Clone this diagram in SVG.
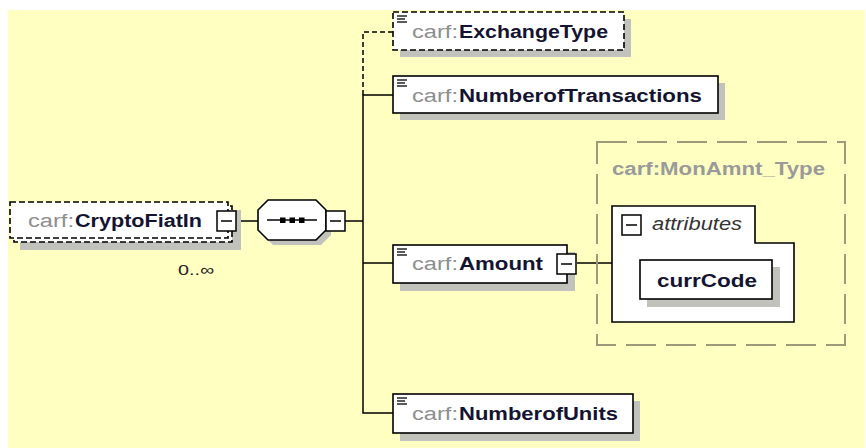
<svg xmlns="http://www.w3.org/2000/svg" width="866" height="448" viewBox="0 0 866 448">
<defs>
<style>
.bg{fill:#FFFFC2}
.sh{fill:#C2C2BC}
.box{fill:#fff;stroke:#000;stroke-width:1.6}
.dbox{fill:#fff;stroke:#000;stroke-width:1.6;stroke-dasharray:6 3}
.ln{stroke:#000;stroke-width:1.5;fill:none}
.dln{stroke:#000;stroke-width:1.5;fill:none;stroke-dasharray:5 3}
.pre{font-family:"Liberation Sans",Arial,sans-serif;font-size:18px;fill:#8E8E8E}
.nm{font-family:"Liberation Sans",Arial,sans-serif;font-size:18px;font-weight:bold;fill:#141432}
.ty{font-family:"Liberation Sans",Arial,sans-serif;font-size:18px;font-weight:bold;fill:#9A9A9A}
.it{font-family:"Liberation Sans",Arial,sans-serif;font-size:18px;font-style:italic;fill:#333}
.oc{font-family:"Liberation Sans",Arial,sans-serif;font-size:15px;fill:#222}
.ic{stroke:#000;stroke-width:1.3}
.mb{fill:#fff;stroke:#000;stroke-width:1.5}
</style>
<g id="minus">
<rect class="mb" x="0" y="0" width="19" height="20"/>
<line class="ln" x1="4" y1="10" x2="15" y2="10"/>
</g>
<g id="lines">
<line class="ic" x1="3" y1="3" x2="13" y2="3"/>
<line class="ic" x1="3" y1="6" x2="11" y2="6"/>
<line class="ic" x1="3" y1="9" x2="13" y2="9"/>
</g>
</defs>
<rect width="866" height="448" fill="#fff"/>
<rect class="bg" x="8" y="10" width="857" height="438"/>

<g id="connectors">
<line class="ln" x1="236" y1="221" x2="258" y2="221"/>
<line class="ln" x1="345" y1="221" x2="363" y2="221"/>
<polyline class="dln" points="393,32 363,32 363,95"/>
<polyline class="ln" points="393,95 363,95 363,413 393,413"/>
<line class="ln" x1="363" y1="263" x2="393" y2="263"/>
<line class="ln" x1="577" y1="263" x2="612" y2="263"/>
</g>

<g id="CryptoFiatIn">
<rect class="sh" x="20" y="210" width="221" height="40"/>
<rect class="dbox" x="14" y="206" width="218" height="36"/>
<rect class="dbox" x="10" y="202" width="218" height="36"/>
<text class="pre" x="28" y="227" textLength="46" lengthAdjust="spacingAndGlyphs">carf:</text>
<text class="nm" x="75" y="227" textLength="127" lengthAdjust="spacingAndGlyphs">CryptoFiatIn</text>
<use href="#minus" x="217" y="211"/>
<text class="oc" x="178" y="275" textLength="36" lengthAdjust="spacingAndGlyphs">0..∞</text>
</g>

<g id="sequence">
<polygon class="sh" points="273,205 321,205 331,215 331,235 321,245 273,245 263,235 263,215"/>
<polygon class="box" points="268,200 316,200 326,210 326,230 316,240 268,240 258,230 258,210"/>
<line class="ln" x1="267" y1="220" x2="317" y2="220"/>
<rect x="280" y="217.5" width="5.5" height="5.5" fill="#000"/>
<rect x="289.5" y="217.5" width="5.5" height="5.5" fill="#000"/>
<rect x="299" y="217.5" width="5.5" height="5.5" fill="#000"/>
<use href="#minus" x="326" y="211"/>
</g>

<g id="ExchangeType">
<rect class="sh" x="400" y="19" width="231" height="38"/>
<rect class="dbox" x="393" y="12" width="231" height="38"/>
<use href="#lines" x="394" y="13"/>
<text class="pre" x="412" y="38" textLength="46" lengthAdjust="spacingAndGlyphs">carf:</text>
<text class="nm" x="459" y="38" textLength="149" lengthAdjust="spacingAndGlyphs">ExchangeType</text>
</g>

<g id="NumberofTransactions">
<rect class="sh" x="400" y="83" width="325" height="37"/>
<rect class="box" x="393" y="76" width="325" height="37"/>
<use href="#lines" x="394" y="77"/>
<text class="pre" x="412" y="102" textLength="46" lengthAdjust="spacingAndGlyphs">carf:</text>
<text class="nm" x="459" y="102" textLength="243" lengthAdjust="spacingAndGlyphs">NumberofTransactions</text>
</g>

<g id="Amount">
<rect class="sh" x="400" y="252" width="175" height="39"/>
<rect class="box" x="393" y="245" width="174" height="38"/>
<use href="#lines" x="394" y="246"/>
<text class="pre" x="412" y="270" textLength="46" lengthAdjust="spacingAndGlyphs">carf:</text>
<text class="nm" x="459" y="270" textLength="84" lengthAdjust="spacingAndGlyphs">Amount</text>
<use href="#minus" x="557" y="254"/>
</g>

<g id="MonAmnt_Type">
<rect x="597" y="142" width="248" height="203" fill="none" stroke="#9C9A78" stroke-width="2" stroke-dasharray="30 10"/>
<text class="ty" x="612" y="175" textLength="213" lengthAdjust="spacingAndGlyphs">carf:MonAmnt_Type</text>
</g>

<g id="attributes">
<polygon class="box" points="612,206 755,206 755,243 794,243 794,322 612,322"/>
<use href="#minus" x="622" y="215"/>
<text class="it" x="652" y="230" textLength="90" lengthAdjust="spacingAndGlyphs">attributes</text>
</g>

<g id="currCode">
<rect class="sh" x="647" y="267" width="133" height="40"/>
<rect class="box" x="640" y="260" width="132" height="39"/>
<text class="nm" x="657" y="287" textLength="100" lengthAdjust="spacingAndGlyphs">currCode</text>
</g>

<g id="NumberofUnits">
<rect class="sh" x="400" y="401" width="240" height="40"/>
<rect class="box" x="393" y="394" width="240" height="39"/>
<use href="#lines" x="394" y="395"/>
<text class="pre" x="412" y="420" textLength="46" lengthAdjust="spacingAndGlyphs">carf:</text>
<text class="nm" x="459" y="420" textLength="159" lengthAdjust="spacingAndGlyphs">NumberofUnits</text>
</g>
</svg>
